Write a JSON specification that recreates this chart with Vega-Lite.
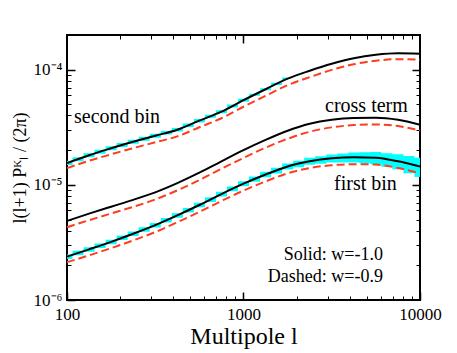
{
  "$schema": "https://vega.github.io/schema/vega-lite/v6.json",
  "width": 353,
  "height": 265,
  "autosize": {"type": "none"},
  "padding": {"left": 67, "top": 35, "right": 37, "bottom": 53},
  "background": "white",
  "config": {
    "view": {"stroke": "black", "strokeWidth": 2},
    "font": "Liberation Serif",
    "axis": {"grid": false, "domain": false, "tickColor": "black", "labelColor": "black", "titleColor": "black", "labelFont": "Liberation Serif", "titleFont": "Liberation Serif", "titleFontWeight": "normal", "labelFlush": false, "labelOverlap": false}
  },
  "datasets": {
    "band": [
      {"l": 100, "lo": 2.275e-6, "hi": 2.489e-6, "bin": "first"},
      {"l": 115.48, "lo": 2.446e-6, "hi": 2.677e-6, "bin": "first"},
      {"l": 133.35, "lo": 2.630e-6, "hi": 2.878e-6, "bin": "first"},
      {"l": 153.99, "lo": 2.835e-6, "hi": 3.102e-6, "bin": "first"},
      {"l": 177.83, "lo": 3.055e-6, "hi": 3.343e-6, "bin": "first"},
      {"l": 205.35, "lo": 3.311e-6, "hi": 3.623e-6, "bin": "first"},
      {"l": 237.14, "lo": 3.589e-6, "hi": 3.928e-6, "bin": "first"},
      {"l": 273.84, "lo": 3.913e-6, "hi": 4.282e-6, "bin": "first"},
      {"l": 316.23, "lo": 4.266e-6, "hi": 4.668e-6, "bin": "first"},
      {"l": 365.17, "lo": 4.704e-6, "hi": 5.147e-6, "bin": "first"},
      {"l": 421.70, "lo": 5.188e-6, "hi": 5.677e-6, "bin": "first"},
      {"l": 486.97, "lo": 5.754e-6, "hi": 6.297e-6, "bin": "first"},
      {"l": 562.34, "lo": 6.383e-6, "hi": 6.985e-6, "bin": "first"},
      {"l": 649.38, "lo": 7.112e-6, "hi": 7.798e-6, "bin": "first"},
      {"l": 749.89, "lo": 7.929e-6, "hi": 8.710e-6, "bin": "first"},
      {"l": 865.96, "lo": 8.782e-6, "hi": 9.669e-6, "bin": "first"},
      {"l": 1000, "lo": 9.721e-6, "hi": 1.0745e-5, "bin": "first"},
      {"l": 1154.8, "lo": 1.0636e-5, "hi": 1.180e-5, "bin": "first"},
      {"l": 1333.5, "lo": 1.1627e-5, "hi": 1.2981e-5, "bin": "first"},
      {"l": 1539.9, "lo": 1.2572e-5, "hi": 1.4098e-5, "bin": "first"},
      {"l": 1778.3, "lo": 1.3589e-5, "hi": 1.5320e-5, "bin": "first"},
      {"l": 2053.5, "lo": 1.4235e-5, "hi": 1.6210e-5, "bin": "first"},
      {"l": 2371.4, "lo": 1.4912e-5, "hi": 1.7154e-5, "bin": "first"},
      {"l": 2738.4, "lo": 1.5262e-5, "hi": 1.7736e-5, "bin": "first"},
      {"l": 3162.3, "lo": 1.5625e-5, "hi": 1.8338e-5, "bin": "first"},
      {"l": 3651.7, "lo": 1.5631e-5, "hi": 1.8722e-5, "bin": "first"},
      {"l": 4217.0, "lo": 1.5638e-5, "hi": 1.9114e-5, "bin": "first"},
      {"l": 4869.7, "lo": 1.5379e-5, "hi": 1.9176e-5, "bin": "first"},
      {"l": 5623.4, "lo": 1.5119e-5, "hi": 1.9238e-5, "bin": "first"},
      {"l": 6493.8, "lo": 1.4355e-5, "hi": 1.8836e-5, "bin": "first"},
      {"l": 7498.9, "lo": 1.3630e-5, "hi": 1.8436e-5, "bin": "first"},
      {"l": 8659.6, "lo": 1.2634e-5, "hi": 1.7810e-5, "bin": "first"},
      {"l": 10000, "lo": 1.1708e-5, "hi": 1.7198e-5, "bin": "first"},
      {"l": 100, "lo": 1.4837e-5, "hi": 1.607e-5, "bin": "second"},
      {"l": 115.48, "lo": 1.6043e-5, "hi": 1.7378e-5, "bin": "second"},
      {"l": 133.35, "lo": 1.7350e-5, "hi": 1.8793e-5, "bin": "second"},
      {"l": 153.99, "lo": 1.8591e-5, "hi": 2.0137e-5, "bin": "second"},
      {"l": 177.83, "lo": 1.9920e-5, "hi": 2.1577e-5, "bin": "second"},
      {"l": 205.35, "lo": 2.1272e-5, "hi": 2.3041e-5, "bin": "second"},
      {"l": 237.14, "lo": 2.2715e-5, "hi": 2.4604e-5, "bin": "second"},
      {"l": 273.84, "lo": 2.4115e-5, "hi": 2.6122e-5, "bin": "second"},
      {"l": 316.23, "lo": 2.5603e-5, "hi": 2.7733e-5, "bin": "second"},
      {"l": 365.17, "lo": 2.7322e-5, "hi": 2.9308e-5, "bin": "second"},
      {"l": 421.70, "lo": 2.9013e-5, "hi": 3.1117e-5, "bin": "second"},
      {"l": 486.97, "lo": 3.1769e-5, "hi": 3.4079e-5, "bin": "second"},
      {"l": 562.34, "lo": 3.4799e-5, "hi": 3.7321e-5, "bin": "second"},
      {"l": 649.38, "lo": 3.8267e-5, "hi": 4.0626e-5, "bin": "second"},
      {"l": 749.89, "lo": 4.1860e-5, "hi": 4.4444e-5, "bin": "second"},
      {"l": 865.96, "lo": 4.6967e-5, "hi": 4.9866e-5, "bin": "second"},
      {"l": 1000, "lo": 5.2699e-5, "hi": 5.5948e-5, "bin": "second"},
      {"l": 1154.8, "lo": 5.9264e-5, "hi": 6.1930e-5, "bin": "second"},
      {"l": 1333.5, "lo": 6.6125e-5, "hi": 6.9099e-5, "bin": "second"},
      {"l": 1539.9, "lo": 7.3508e-5, "hi": 7.6812e-5, "bin": "second"},
      {"l": 1778.3, "lo": 8.1682e-5, "hi": 8.5352e-5, "bin": "second"}
    ],
    "solid": [
      {"l": 100, "v": 2.38e-6, "bin": "first"},
      {"l": 133.35, "v": 2.754e-6, "bin": "first"},
      {"l": 177.83, "v": 3.20e-6, "bin": "first"},
      {"l": 237.14, "v": 3.76e-6, "bin": "first"},
      {"l": 316.23, "v": 4.47e-6, "bin": "first"},
      {"l": 421.70, "v": 5.43e-6, "bin": "first"},
      {"l": 562.34, "v": 6.68e-6, "bin": "first"},
      {"l": 749.89, "v": 8.32e-6, "bin": "first"},
      {"l": 1000, "v": 1.023e-5, "bin": "first"},
      {"l": 1333.5, "v": 1.23e-5, "bin": "first"},
      {"l": 1778.3, "v": 1.445e-5, "bin": "first"},
      {"l": 2371.4, "v": 1.60e-5, "bin": "first"},
      {"l": 3162.3, "v": 1.70e-5, "bin": "first"},
      {"l": 4217.0, "v": 1.74e-5, "bin": "first"},
      {"l": 5623.4, "v": 1.72e-5, "bin": "first"},
      {"l": 7498.9, "v": 1.60e-5, "bin": "first"},
      {"l": 10000, "v": 1.445e-5, "bin": "first"},
      {"l": 100, "v": 4.86e-6, "bin": "cross"},
      {"l": 133.35, "v": 5.62e-6, "bin": "cross"},
      {"l": 177.83, "v": 6.46e-6, "bin": "cross"},
      {"l": 237.14, "v": 7.41e-6, "bin": "cross"},
      {"l": 316.23, "v": 8.61e-6, "bin": "cross"},
      {"l": 421.70, "v": 1.035e-5, "bin": "cross"},
      {"l": 562.34, "v": 1.274e-5, "bin": "cross"},
      {"l": 749.89, "v": 1.60e-5, "bin": "cross"},
      {"l": 1000, "v": 2.00e-5, "bin": "cross"},
      {"l": 1333.5, "v": 2.455e-5, "bin": "cross"},
      {"l": 1778.3, "v": 2.95e-5, "bin": "cross"},
      {"l": 2371.4, "v": 3.39e-5, "bin": "cross"},
      {"l": 3162.3, "v": 3.67e-5, "bin": "cross"},
      {"l": 4217.0, "v": 3.80e-5, "bin": "cross"},
      {"l": 5623.4, "v": 3.82e-5, "bin": "cross"},
      {"l": 7498.9, "v": 3.67e-5, "bin": "cross"},
      {"l": 10000, "v": 3.33e-5, "bin": "cross"},
      {"l": 100, "v": 1.545e-5, "bin": "second"},
      {"l": 133.35, "v": 1.807e-5, "bin": "second"},
      {"l": 177.83, "v": 2.075e-5, "bin": "second"},
      {"l": 237.14, "v": 2.366e-5, "bin": "second"},
      {"l": 316.23, "v": 2.667e-5, "bin": "second"},
      {"l": 421.70, "v": 3.006e-5, "bin": "second"},
      {"l": 562.34, "v": 3.606e-5, "bin": "second"},
      {"l": 749.89, "v": 4.315e-5, "bin": "second"},
      {"l": 1000, "v": 5.433e-5, "bin": "second"},
      {"l": 1333.5, "v": 6.761e-5, "bin": "second"},
      {"l": 1778.3, "v": 8.356e-5, "bin": "second"},
      {"l": 2371.4, "v": 9.795e-5, "bin": "second"},
      {"l": 3162.3, "v": 1.127e-4, "bin": "second"},
      {"l": 4217.0, "v": 1.259e-4, "bin": "second"},
      {"l": 5623.4, "v": 1.349e-4, "bin": "second"},
      {"l": 7498.9, "v": 1.390e-4, "bin": "second"},
      {"l": 10000, "v": 1.377e-4, "bin": "second"}
    ],
    "dashed": [
      {"l": 100, "v": 2.13e-6, "bin": "first"},
      {"l": 133.35, "v": 2.44e-6, "bin": "first"},
      {"l": 177.83, "v": 2.82e-6, "bin": "first"},
      {"l": 237.14, "v": 3.29e-6, "bin": "first"},
      {"l": 316.23, "v": 3.89e-6, "bin": "first"},
      {"l": 421.70, "v": 4.73e-6, "bin": "first"},
      {"l": 562.34, "v": 5.82e-6, "bin": "first"},
      {"l": 749.89, "v": 7.24e-6, "bin": "first"},
      {"l": 1000, "v": 8.91e-6, "bin": "first"},
      {"l": 1333.5, "v": 1.07e-5, "bin": "first"},
      {"l": 1778.3, "v": 1.26e-5, "bin": "first"},
      {"l": 2371.4, "v": 1.40e-5, "bin": "first"},
      {"l": 3162.3, "v": 1.48e-5, "bin": "first"},
      {"l": 4217.0, "v": 1.51e-5, "bin": "first"},
      {"l": 5623.4, "v": 1.50e-5, "bin": "first"},
      {"l": 7498.9, "v": 1.40e-5, "bin": "first"},
      {"l": 10000, "v": 1.26e-5, "bin": "first"},
      {"l": 100, "v": 4.285e-6, "bin": "cross"},
      {"l": 133.35, "v": 4.93e-6, "bin": "cross"},
      {"l": 177.83, "v": 5.64e-6, "bin": "cross"},
      {"l": 237.14, "v": 6.44e-6, "bin": "cross"},
      {"l": 316.23, "v": 7.46e-6, "bin": "cross"},
      {"l": 421.70, "v": 8.95e-6, "bin": "cross"},
      {"l": 562.34, "v": 1.10e-5, "bin": "cross"},
      {"l": 749.89, "v": 1.38e-5, "bin": "cross"},
      {"l": 1000, "v": 1.714e-5, "bin": "cross"},
      {"l": 1333.5, "v": 2.10e-5, "bin": "cross"},
      {"l": 1778.3, "v": 2.51e-5, "bin": "cross"},
      {"l": 2371.4, "v": 2.89e-5, "bin": "cross"},
      {"l": 3162.3, "v": 3.155e-5, "bin": "cross"},
      {"l": 4217.0, "v": 3.30e-5, "bin": "cross"},
      {"l": 5623.4, "v": 3.34e-5, "bin": "cross"},
      {"l": 7498.9, "v": 3.24e-5, "bin": "cross"},
      {"l": 10000, "v": 2.96e-5, "bin": "cross"},
      {"l": 100, "v": 1.396e-5, "bin": "second"},
      {"l": 133.35, "v": 1.618e-5, "bin": "second"},
      {"l": 177.83, "v": 1.841e-5, "bin": "second"},
      {"l": 237.14, "v": 2.084e-5, "bin": "second"},
      {"l": 316.23, "v": 2.339e-5, "bin": "second"},
      {"l": 421.70, "v": 2.636e-5, "bin": "second"},
      {"l": 562.34, "v": 3.162e-5, "bin": "second"},
      {"l": 749.89, "v": 3.784e-5, "bin": "second"},
      {"l": 1000, "v": 4.764e-5, "bin": "second"},
      {"l": 1333.5, "v": 5.93e-5, "bin": "second"},
      {"l": 1778.3, "v": 7.328e-5, "bin": "second"},
      {"l": 2371.4, "v": 8.61e-5, "bin": "second"},
      {"l": 3162.3, "v": 9.954e-5, "bin": "second"},
      {"l": 4217.0, "v": 1.114e-4, "bin": "second"},
      {"l": 5623.4, "v": 1.197e-4, "bin": "second"},
      {"l": 7498.9, "v": 1.233e-4, "bin": "second"},
      {"l": 10000, "v": 1.222e-4, "bin": "second"}
    ],
    "names": [
      {"l": 109.6, "v": 3.46e-5, "label": "second bin"},
      {"l": 2897, "v": 4.31e-5, "label": "cross term"},
      {"l": 3258, "v": 9.06e-6, "label": "first bin"}
    ],
    "legendtext": [
      {"l": 6170, "v": 2.23e-6, "label": "Solid: w=-1.0"},
      {"l": 6170, "v": 1.435e-6, "label": "Dashed: w=-0.9"}
    ]
  },
  "resolve": {"axis": {"x": "independent", "y": "independent"}},
  "layer": [
    {
      "data": {"name": "band"},
      "mark": {"type": "area", "interpolate": "step", "color": "#00ffff", "opacity": 1},
      "encoding": {
        "x": {"field": "l", "type": "quantitative", "scale": {"type": "log", "domain": [100, 10000], "nice": false},
          "axis": {"orient": "bottom", "values": [100, 1000, 10000], "format": "d", "tickSize": -8, "tickWidth": 1.5, "labelFontSize": 17, "labelPadding": 14, "title": "Multipole l", "titleFontSize": 24, "titleX": 176.5, "titleY": 43, "titleBaseline": "alphabetic", "titleAlign": "center", "titleAnchor": null}},
        "y": {"field": "lo", "type": "quantitative", "scale": {"type": "log", "domain": [1e-6, 2e-4], "nice": false},
          "axis": {"orient": "left", "values": [1e-6, 1e-5, 1e-4], "labelExpr": "'10' + (datum.value < 3e-6 ? '⁻⁶' : datum.value < 3e-5 ? '⁻⁵' : '⁻⁴')", "tickSize": -8, "tickWidth": 1.5, "labelFontSize": 17, "labelPadding": 13, "labelBaseline": "middle", "labelOffset": 0, "title": "l(l+1) Pᴷₗ / (2π)", "titleFontSize": 18, "titleAngle": 270, "titleX": -42, "titleY": 132.5, "titleBaseline": "alphabetic", "titleAlign": "center", "titleAnchor": null}},
        "y2": {"field": "hi"},
        "detail": {"field": "bin"}
      }
    },
    {
      "data": {"name": "solid"},
      "mark": {"type": "line", "color": "black", "strokeWidth": 2, "interpolate": "monotone"},
      "encoding": {
        "x": {"field": "l", "type": "quantitative", "scale": {"type": "log", "domain": [100, 10000], "nice": false},
          "axis": {"orient": "bottom", "values": [200, 300, 400, 500, 600, 700, 800, 900, 2000, 3000, 4000, 5000, 6000, 7000, 8000, 9000], "labels": false, "tickSize": -4, "tickWidth": 1, "title": null}},
        "y": {"field": "v", "type": "quantitative", "scale": {"type": "log", "domain": [1e-6, 2e-4], "nice": false},
          "axis": {"orient": "left", "values": [2e-6, 3e-6, 4e-6, 5e-6, 6e-6, 7e-6, 8e-6, 9e-6, 2e-5, 3e-5, 4e-5, 5e-5, 6e-5, 7e-5, 8e-5, 9e-5], "labels": false, "tickSize": -4, "tickWidth": 1, "title": null}},
        "detail": {"field": "bin"}
      }
    },
    {
      "data": {"name": "dashed"},
      "mark": {"type": "line", "color": "#ff3c1e", "strokeWidth": 2, "strokeDash": [8, 4], "interpolate": "monotone"},
      "encoding": {
        "x": {"field": "l", "type": "quantitative", "scale": {"type": "log", "domain": [100, 10000], "nice": false},
          "axis": {"orient": "top", "values": [1000], "labels": false, "tickSize": -8, "tickWidth": 1.5, "title": null}},
        "y": {"field": "v", "type": "quantitative", "scale": {"type": "log", "domain": [1e-6, 2e-4], "nice": false},
          "axis": {"orient": "right", "values": [1e-5, 1e-4], "labels": false, "tickSize": -8, "tickWidth": 1.5, "title": null}},
        "detail": {"field": "bin"}
      }
    },
    {
      "data": {"name": "names"},
      "mark": {"type": "text", "align": "left", "baseline": "alphabetic", "fontSize": 20, "font": "Liberation Serif", "color": "black"},
      "encoding": {
        "x": {"field": "l", "type": "quantitative", "scale": {"type": "log", "domain": [100, 10000], "nice": false},
          "axis": {"orient": "top", "values": [200, 300, 400, 500, 600, 700, 800, 900, 2000, 3000, 4000, 5000, 6000, 7000, 8000, 9000], "labels": false, "tickSize": -4, "tickWidth": 1, "title": null}},
        "y": {"field": "v", "type": "quantitative", "scale": {"type": "log", "domain": [1e-6, 2e-4], "nice": false},
          "axis": {"orient": "right", "values": [2e-6, 3e-6, 4e-6, 5e-6, 6e-6, 7e-6, 8e-6, 9e-6, 2e-5, 3e-5, 4e-5, 5e-5, 6e-5, 7e-5, 8e-5, 9e-5], "labels": false, "tickSize": -4, "tickWidth": 1, "title": null}},
        "text": {"field": "label"}
      }
    },
    {
      "data": {"name": "legendtext"},
      "mark": {"type": "text", "align": "right", "baseline": "alphabetic", "fontSize": 18, "font": "Liberation Serif", "color": "black"},
      "encoding": {
        "x": {"field": "l", "type": "quantitative", "scale": {"type": "log", "domain": [100, 10000], "nice": false}, "axis": null},
        "y": {"field": "v", "type": "quantitative", "scale": {"type": "log", "domain": [1e-6, 2e-4], "nice": false}, "axis": null},
        "text": {"field": "label"}
      }
    }
  ]
}
